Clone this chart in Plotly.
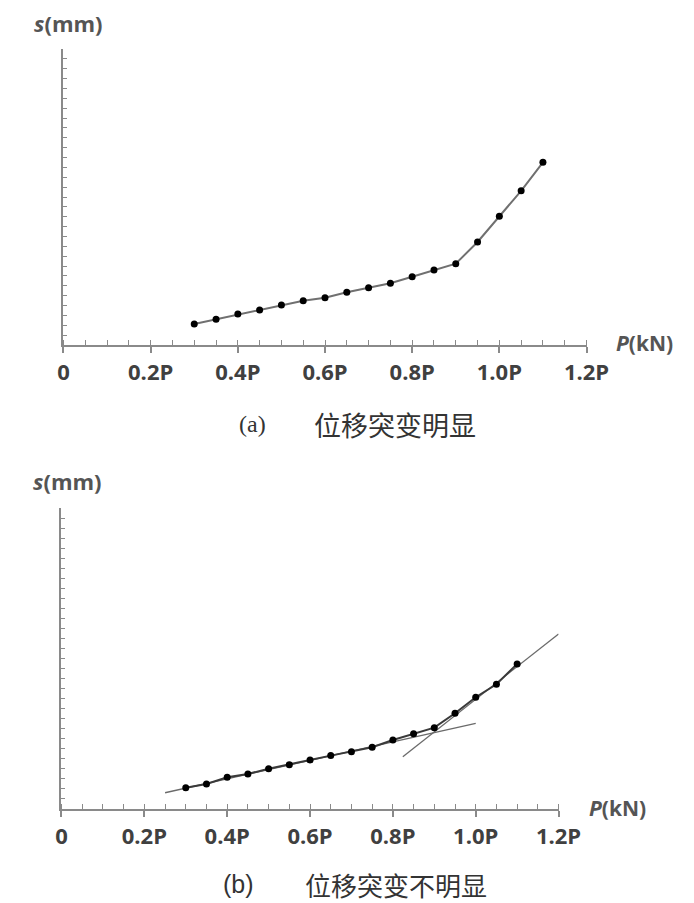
import plotly.graph_objects as go

# ---- data ----
load_a = [0.3, 0.35, 0.4, 0.45, 0.5, 0.55, 0.6, 0.65, 0.7, 0.75, 0.8, 0.85, 0.9, 0.95, 1.0, 1.05, 1.1]
disp_a = [2.13, 2.6, 3.14, 3.55, 4.05, 4.49, 4.79, 5.34, 5.8, 6.25, 6.92, 7.6, 8.24, 10.44, 13.04, 15.63, 18.51]

load_b = [0.3, 0.35, 0.4, 0.45, 0.5, 0.55, 0.6, 0.65, 0.7, 0.75, 0.8, 0.85, 0.9, 0.95, 1.0, 1.05, 1.1]
disp_b = [2.12, 2.49, 3.16, 3.49, 4.02, 4.42, 4.89, 5.32, 5.71, 6.15, 6.88, 7.51, 8.11, 9.54, 11.14, 12.43, 14.46]

tan1_x = [0.25, 1.0]
tan1_y = [1.62, 8.54]
tan2_x = [0.824, 1.2]
tan2_y = [5.21, 17.45]

tick_vals = [0, 0.2, 0.4, 0.6, 0.8, 1.0, 1.2]
tick_text = ["0", "0.2P", "0.4P", "0.6P", "0.8P", "1.0P", "1.2P"]

W, H = 694, 903
AX = "#8a8a8a"
TXT = "#404040"


def X(p):
    # horizontal pixel -> paper fraction (calibrated against the rendered output)
    return (p - 5.4) / 0.96 / W


def Y(p):
    return 1 - p / H


fig = go.Figure()

# (a)
fig.add_trace(go.Scatter(x=load_a, y=disp_a, mode="lines+markers",
                         line=dict(color="#707070", width=2),
                         marker=dict(color="black", size=7),
                         xaxis="x", yaxis="y", showlegend=False))
# (b)
fig.add_trace(go.Scatter(x=tan1_x, y=tan1_y, mode="lines",
                         line=dict(color="#6a6a6a", width=1.3),
                         xaxis="x2", yaxis="y2", showlegend=False))
fig.add_trace(go.Scatter(x=tan2_x, y=tan2_y, mode="lines",
                         line=dict(color="#6a6a6a", width=1.3),
                         xaxis="x2", yaxis="y2", showlegend=False))
fig.add_trace(go.Scatter(x=load_b, y=disp_b, mode="lines+markers",
                         line=dict(color="#3a3a3a", width=2),
                         marker=dict(color="black", size=7),
                         xaxis="x2", yaxis="y2", showlegend=False))


def xax(domain, anchor):
    return dict(domain=domain, anchor=anchor, range=[0, 1.2],
                showgrid=False, zeroline=False, showline=True,
                linecolor=AX, linewidth=2,
                tickmode="array", tickvals=tick_vals, ticktext=tick_text,
                ticks="outside", ticklen=6, tickwidth=1.5, tickcolor=AX,
                ticklabelstandoff=1,
                tickfont=dict(family="Open Sans", size=22, color=TXT, weight="bold"),
                minor=dict(dtick=0.05, tick0=0, ticks="inside", ticklen=5,
                           tickwidth=1.2, tickcolor=AX, showgrid=False))


def yax(domain, anchor):
    return dict(domain=domain, anchor=anchor, range=[0, 30],
                showgrid=False, zeroline=False, showline=True,
                linecolor=AX, linewidth=2, showticklabels=False,
                tickmode="linear", tick0=0, dtick=1,
                ticks="inside", ticklen=4, tickwidth=1.2, tickcolor=AX)


fig.update_layout(
    width=W, height=H,
    margin=dict(l=0, r=0, t=0, b=0),
    paper_bgcolor="white", plot_bgcolor="white",
    xaxis=xax([X(63), X(587)], "y"),
    yaxis=yax([Y(345), Y(49)], "x"),
    xaxis2=xax([X(61), X(559)], "y2"),
    yaxis2=yax([Y(809), Y(508)], "x2"),
)


def ann(text, px, py, size, family, color=TXT, bold=False):
    fig.add_annotation(text=text, x=X(px), y=Y(py), xref="paper", yref="paper",
                       showarrow=False, xanchor="center", yanchor="middle",
                       font=dict(family=family, size=size, color=color,
                                 weight="bold" if bold else "normal"))


ann("<i>s</i>(mm)", 68, 23, 22, "Open Sans", "#555555", True)
ann("<i>P</i>(kN)", 645, 343, 21, "Open Sans", "#555555", True)
ann("(a)", 252, 424, 24, "Liberation Serif", "#333333")
ann("位移突变明显", 395, 424, 27, "Noto Sans CJK SC", "#333333")

ann("<i>s</i>(mm)", 67, 481, 22, "Open Sans", "#555555", True)
ann("<i>P</i>(kN)", 618, 808, 21, "Open Sans", "#555555", True)
ann("(b)", 238, 884, 25, "Liberation Sans", "#333333")
ann("位移突变不明显", 396, 884, 26, "Noto Sans CJK SC", "#333333")

fig.write_html("out.html")
